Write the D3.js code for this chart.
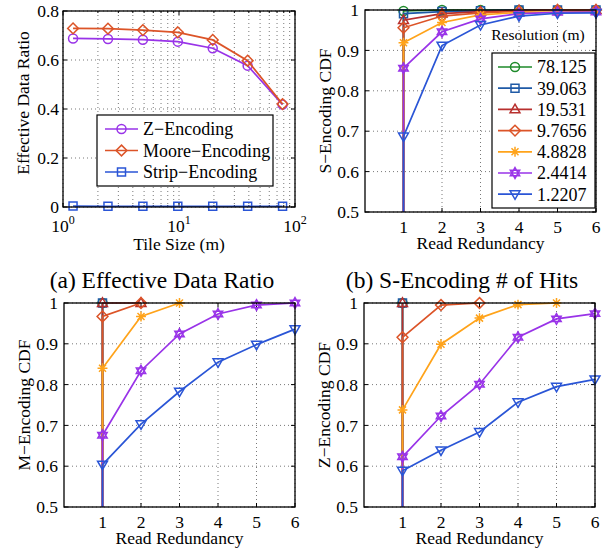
<!DOCTYPE html>
<html>
<head>
<meta charset="utf-8">
<script src="https://cdn.jsdelivr.net/npm/d3@7"></script>
<style>
  body { margin: 0; background: #fff; }
  svg { font-family: "Liberation Serif", "Times New Roman", serif; }
</style>
</head>
<body>
<div class="canvas"></div>
<script>
// ---- data ----
const tileSizes = [1.2207, 2.4414, 4.8828, 9.7656, 19.531, 39.063, 78.125];
const zEncodingRatio = [0.688, 0.686, 0.683, 0.675, 0.648, 0.577, 0.418];
const mooreEncodingRatio = [0.729, 0.728, 0.722, 0.713, 0.682, 0.597, 0.420];
const stripEncodingRatio = [0.004, 0.003, 0.003, 0.003, 0.003, 0.003, 0.003];
const ratioTicks = [0, 0.2, 0.4, 0.6, 0.8];
const tileTicks = [1, 10, 100];

const resolutions = ['78.125', '39.063', '19.531', '9.7656', '4.8828', '2.4414', '1.2207'];
const readRedundancy = [1, 2, 3, 4, 5, 6];
const cdfTicks = [0.5, 0.6, 0.7, 0.8, 0.9, 1];
const cdfFloor = 0; // every CDF starts from 0 at redundancy 1

const sEncodingCdf = [
    [0.9975, 1, 1, 1, 1, 1],
    [0.991, 0.996, 0.998, 1, 1, 1],
    [0.975, 0.991, 0.996, 0.999, 1, 1],
    [0.956, 0.985, 0.993, 0.997, 1, 1],
    [0.919, 0.969, 0.988, 0.994, 0.995, 0.996],
    [0.856, 0.946, 0.978, 0.991, 0.994, 0.995],
    [0.687, 0.912, 0.963, 0.985, 0.992, 0.993]
];
const mEncodingCdf = [
    [1],
    [1],
    [1, 1],
    [0.967, 1],
    [0.840, 0.967, 1],
    [0.676, 0.834, 0.924, 0.973, 0.995, 1],
    [0.604, 0.703, 0.783, 0.855, 0.898, 0.936]
];
const zEncodingCdf = [
    [1],
    [1],
    [1],
    [0.916, 0.995, 1],
    [0.738, 0.899, 0.963, 0.996, 1],
    [0.623, 0.723, 0.801, 0.916, 0.961, 0.974],
    [0.589, 0.639, 0.684, 0.757, 0.795, 0.813]
];

// ---- styles ----
const resColours = ['#1e8a2a', '#1f5aa6', '#b8302e', '#dc5428', '#ffa31a', '#9933e8', '#2a55d6'];
const resMarkers = ['circle', 'square', 'triUp', 'diamond', 'asterisk', 'hexagram', 'triDown'];
const encColours = ['#9933e8', '#dc5428', '#2a55d6'];
const encMarkers = ['circle', 'diamond', 'square'];

const svg = d3.select('.canvas')
    .append('svg')
    .attr('width', 607)
    .attr('height', 550);

const markerPath = (type, s) => {
    const p = d3.path();
    const pts = (arr) => {
        arr.forEach((q, i) => i ? p.lineTo(q[0], q[1]) : p.moveTo(q[0], q[1]));
        p.closePath();
    };
    switch (type) {
        case 'circle':
            p.moveTo(s, 0); p.arc(0, 0, s, 0, 2 * Math.PI); break;
        case 'square':
            p.rect(-s, -s, 2 * s, 2 * s); break;
        case 'diamond':
            pts([[0, -s * 1.2], [s * 1.2, 0], [0, s * 1.2], [-s * 1.2, 0]]); break;
        case 'triUp':
            pts([[0, -s * 1.15], [s * 1.1, s * 0.75], [-s * 1.1, s * 0.75]]); break;
        case 'triDown':
            pts([[0, s * 1.15], [s * 1.1, -s * 0.75], [-s * 1.1, -s * 0.75]]); break;
        case 'asterisk':
            for (let k = 0; k < 4; k++) {
                const a = k * Math.PI / 4;
                p.moveTo(Math.cos(a) * s * 1.1, Math.sin(a) * s * 1.1);
                p.lineTo(-Math.cos(a) * s * 1.1, -Math.sin(a) * s * 1.1);
            }
            break;
        case 'hexagram': {
            const r = s * 1.2;
            const tri = (off) => [0, 1, 2].map(k => {
                const a = off + k * 2 * Math.PI / 3;
                return [Math.sin(a) * r, -Math.cos(a) * r];
            });
            pts(tri(0)); pts(tri(Math.PI));
            break;
        }
    }
    return p.toString();
};

const drawPanel = (cfg) => {
    const { left, top, width, height, x, y } = cfg;
    const g = svg.append('g').attr('transform', `translate(${left}, ${top})`);
    const id = 'clip' + left + top;
    g.append('clipPath').attr('id', id)
        .append('rect').attr('x', -2).attr('y', -2).attr('width', width + 4).attr('height', height + 2);

    // grid
    const grid = g.append('g')
        .attr('stroke', '#555').attr('stroke-width', 0.8).attr('stroke-dasharray', '1,3');
    grid.selectAll('.gx').data(cfg.xGrid)
        .enter().append('line')
        .attr('x1', d => x(d)).attr('x2', d => x(d))
        .attr('y1', 0).attr('y2', height);
    grid.selectAll('.gy').data(cfg.yTicks)
        .enter().append('line')
        .attr('y1', d => y(d)).attr('y2', d => y(d))
        .attr('x1', 0).attr('x2', width);

    // ticks (inward, mirrored)
    const tk = g.append('g').attr('stroke', '#000').attr('stroke-width', 1);
    cfg.xTickMarks.forEach(t => {
        const len = cfg.xTicks.includes(t) ? 4 : 2;
        tk.append('line').attr('x1', x(t)).attr('x2', x(t)).attr('y1', height).attr('y2', height - len);
        tk.append('line').attr('x1', x(t)).attr('x2', x(t)).attr('y1', 0).attr('y2', len);
    });
    cfg.yTicks.forEach(t => {
        tk.append('line').attr('y1', y(t)).attr('y2', y(t)).attr('x1', 0).attr('x2', 4);
        tk.append('line').attr('y1', y(t)).attr('y2', y(t)).attr('x1', width).attr('x2', width - 4);
    });

    // tick labels
    g.selectAll('.yl').data(cfg.yTicks)
        .enter().append('text')
        .attr('x', -cfg.yLabelGap).attr('y', d => y(d))
        .attr('dy', '0.35em')
        .attr('text-anchor', 'end')
        .attr('font-size', 17.5)
        .text(d => String(d));

    const xl = g.selectAll('.xl').data(cfg.xTicks)
        .enter().append('text')
        .attr('x', d => x(d)).attr('y', height + cfg.xTickBase)
        .attr('text-anchor', 'middle')
        .attr('font-size', 17.5);
    if (cfg.logLabels) {
        xl.append('tspan').text('10');
        xl.append('tspan').attr('dy', -8).attr('font-size', 12).text(d => Math.round(Math.log10(d)));
    } else {
        xl.text(d => String(d));
    }

    // axis titles
    g.append('text')
        .attr('x', width / 2).attr('y', height + cfg.xTitleBase)
        .attr('text-anchor', 'middle').attr('font-size', 17.5)
        .text(cfg.xTitle);
    g.append('text')
        .attr('transform', `translate(${-40}, ${height / 2 + (cfg.yTitleShift || 0)}) rotate(-90)`)
        .attr('dy', '0.35em')
        .attr('text-anchor', 'middle').attr('font-size', 17.5)
        .text(cfg.yTitle);

    // series
    const line = d3.line().x(d => x(d[0])).y(d => y(d[1]));
    cfg.series.forEach((s, i) => {
        g.append('path')
            .attr('clip-path', `url(#${id})`)
            .attr('d', line(s.points))
            .attr('fill', 'none')
            .attr('stroke', s.colour)
            .attr('stroke-width', 1.7);
        g.selectAll('.m' + i).data(s.points.filter(p => p[1] >= y.domain()[0]))
            .enter().append('path')
            .attr('transform', d => `translate(${x(d[0])}, ${y(d[1])})`)
            .attr('d', markerPath(s.marker, s.size))
            .attr('fill', 'none')
            .attr('stroke', s.colour)
            .attr('stroke-width', 1.5);
    });

    // box
    g.append('rect')
        .attr('width', width).attr('height', height)
        .attr('fill', 'none').attr('stroke', '#000').attr('stroke-width', 1.3);
    return g;
};

const drawLegend = (g, items, box, rows) => {
    g.append('rect')
        .attr('x', box.x).attr('y', box.y).attr('width', box.w).attr('height', box.h)
        .attr('fill', '#fff').attr('stroke', '#000').attr('stroke-width', 1.2);
    const it = g.selectAll('.leg').data(items)
        .enter().append('g')
        .attr('transform', (d, i) => `translate(${box.x}, ${rows.y0 + i * rows.dy})`);
    it.append('line')
        .attr('x1', rows.l0).attr('x2', rows.l1)
        .attr('stroke', d => d.colour).attr('stroke-width', 1.7);
    it.append('path')
        .attr('transform', `translate(${(rows.l0 + rows.l1) / 2}, 0)`)
        .attr('d', d => markerPath(d.marker, d.size))
        .attr('fill', 'none').attr('stroke', d => d.colour).attr('stroke-width', 1.5);
    it.append('text')
        .attr('x', rows.tx).attr('dy', '0.35em')
        .attr('font-size', 18)
        .text(d => d.name);
};

// ---- (a) effective data ratio ----
const xTile = d3.scaleLog().domain([1, 100]).range([0, 232]);
const yRatio = d3.scaleLinear().domain([0, 0.8]).range([196, 0]);
const encNames = ['Z\u2212Encoding', 'Moore\u2212Encoding', 'Strip\u2212Encoding'];
const encValues = [zEncodingRatio, mooreEncodingRatio, stripEncodingRatio];
const encSeries = encValues.map((vals, i) => ({
    name: encNames[i],
    colour: encColours[i],
    marker: encMarkers[i],
    size: encMarkers[i] === 'square' ? 4 : 4.5,
    points: tileSizes.map((t, j) => [t, vals[j]])
}));
const gA = drawPanel({
    left: 63, top: 11, width: 232, height: 196,
    x: xTile, y: yRatio,
    xTicks: tileTicks, xTickMarks: xTile.ticks(), xGrid: xTile.ticks(),
    yTicks: ratioTicks, yLabelGap: 4,
    logLabels: true, xTickBase: 25, xTitleBase: 43,
    xTitle: 'Tile Size (m)', yTitle: 'Effective Data Ratio', yTitleShift: -6,
    series: encSeries
});
drawLegend(gA, encSeries, { x: 34, y: 104, w: 176, h: 71 }, { y0: 118, dy: 21.5, l0: 8, l1: 41, tx: 46 });

// ---- CDF panels ----
const cdfPanel = (left, top, height, data, yTitle) => {
    const x = d3.scaleLinear().domain([0, 6]).range([0, 231]);
    const y = d3.scaleLinear().domain([0.5, 1]).range([height, 0]);
    const series = data.map((vals, i) => ({
        name: resolutions[i],
        colour: resColours[i],
        marker: resMarkers[i],
        size: resMarkers[i] === 'square' ? 4 : 4.5,
        points: [[readRedundancy[0], cdfFloor]].concat(vals.map((v, j) => [readRedundancy[j], v]))
    }));
    const g = drawPanel({
        left, top, width: 231, height,
        x, y,
        xTicks: readRedundancy, xTickMarks: readRedundancy, xGrid: readRedundancy,
        yTicks: cdfTicks, yLabelGap: 6,
        logLabels: false, xTickBase: 21, xTitleBase: 36.5,
        xTitle: 'Read Redundancy', yTitle,
        series
    });
    return { g, series };
};

const b = cdfPanel(365, 10, 202, sEncodingCdf, 'S\u2212Encoding CDF');
b.g.append('text')
    .attr('x', 173).attr('y', 30)
    .attr('text-anchor', 'middle').attr('font-size', 15.5)
    .text('Resolution (m)');
drawLegend(b.g, b.series, { x: 127, y: 43, w: 103, h: 155 }, { y0: 57, dy: 21.2, l0: 6, l1: 40, tx: 45 });

cdfPanel(64, 303, 204, mEncodingCdf, 'M\u2212Encoding CDF');
cdfPanel(364, 303, 204, zEncodingCdf, 'Z\u2212Encoding CDF');

// ---- captions ----
svg.append('text')
    .attr('x', 162).attr('y', 288)
    .attr('text-anchor', 'middle').attr('font-size', 23.5)
    .text('(a) Effective Data Ratio');
svg.append('text')
    .attr('x', 462).attr('y', 288)
    .attr('text-anchor', 'middle').attr('font-size', 23.5)
    .text('(b) S-Encoding # of Hits');
</script>
</body>
</html>
